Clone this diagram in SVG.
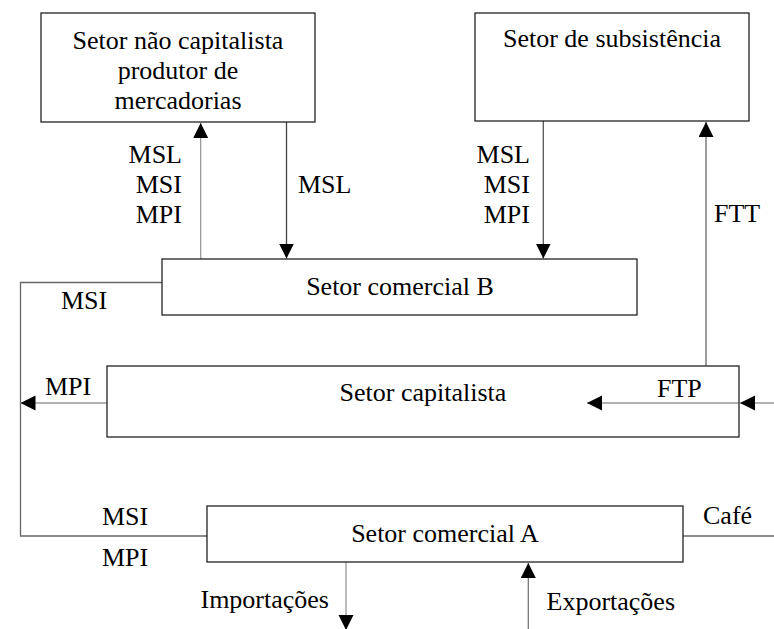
<svg xmlns="http://www.w3.org/2000/svg" width="774" height="629" viewBox="0 0 774 629">
<style>
.box{fill:#fff;stroke:#222;stroke-width:1.3}
.t{font-family:"Liberation Serif","Times New Roman",serif;font-size:26px;fill:#000}
.m{text-anchor:middle}
.e{text-anchor:end}
.c{fill:none;stroke-width:1.3}
</style>
<defs>
<marker id="ah" markerUnits="userSpaceOnUse" markerWidth="16" markerHeight="16" refX="15" refY="7.5" orient="auto">
<path d="M0,0 L15,7.5 L0,15 Z" fill="#000"/>
</marker>
</defs>
<rect width="774" height="629" fill="#fff"/>
<g id="connectors">
<path class="c" stroke="#9a9a9a" d="M200.7,259 V123" marker-end="url(#ah)"/>
<path class="c" stroke="#444" d="M286.5,122 V258.5" marker-end="url(#ah)"/>
<path class="c" stroke="#555" d="M543.3,121 V258.5" marker-end="url(#ah)"/>
<path class="c" stroke="#666" d="M706,366 V122" marker-end="url(#ah)"/>
<path class="c" stroke="#666" d="M162,282.5 H20.5 V536 H207"/>
<path class="c" stroke="#9a9a9a" d="M107,403 H20.5" marker-end="url(#ah)"/>
<path class="c" stroke="#9a9a9a" d="M774,403 H740" marker-end="url(#ah)"/>
<path class="c" stroke="#9a9a9a" d="M739,403 H587" marker-end="url(#ah)"/>
<path class="c" stroke="#9a9a9a" d="M346,562 V630" marker-end="url(#ah)"/>
<path class="c" stroke="#777" d="M528.3,629 V563" marker-end="url(#ah)"/>
<path class="c" stroke="#666" d="M683,536 H774"/>
<g id="connector-labels">
<text class="t e" x="182" y="162.5">MSL</text>
<text class="t e" x="182" y="193">MSI</text>
<text class="t e" x="182" y="223">MPI</text>
<text class="t" x="298" y="193">MSL</text>
<text class="t e" x="530" y="162.5">MSL</text>
<text class="t e" x="530" y="193">MSI</text>
<text class="t e" x="530" y="223">MPI</text>
<text class="t" x="714" y="222">FTT</text>
<text class="t" x="61" y="309">MSI</text>
<text class="t" x="45" y="395">MPI</text>
<text class="t" x="657" y="397">FTP</text>
<text class="t" x="102" y="525">MSI</text>
<text class="t" x="102" y="565.5">MPI</text>
<text class="t" x="703" y="524">Café</text>
<text class="t e" x="329" y="607.5">Importações</text>
<text class="t" x="546.5" y="610">Exportações</text>
</g>
</g>
<g id="setor-nao-capitalista">
<rect class="box" x="41" y="13" width="274" height="109"/>
<text class="t m" x="178" y="48.5">Setor não capitalista</text>
<text class="t m" x="178" y="78.5">produtor de</text>
<text class="t m" x="178" y="108.5">mercadorias</text>
</g>
<g id="setor-subsistencia">
<rect class="box" x="475" y="13" width="274" height="108"/>
<text class="t m" x="612" y="47">Setor de subsistência</text>
</g>
<g id="setor-comercial-b">
<rect class="box" x="162" y="259" width="475" height="56"/>
<text class="t m" x="400" y="295">Setor comercial B</text>
</g>
<g id="setor-capitalista">
<rect class="box" x="107" y="366" width="632" height="71" fill="none" style="fill:none"/>
<text class="t m" x="423" y="401">Setor capitalista</text>
</g>
<g id="setor-comercial-a">
<rect class="box" x="207" y="506" width="476" height="56"/>
<text class="t m" x="445" y="542">Setor comercial A</text>
</g>
</svg>
